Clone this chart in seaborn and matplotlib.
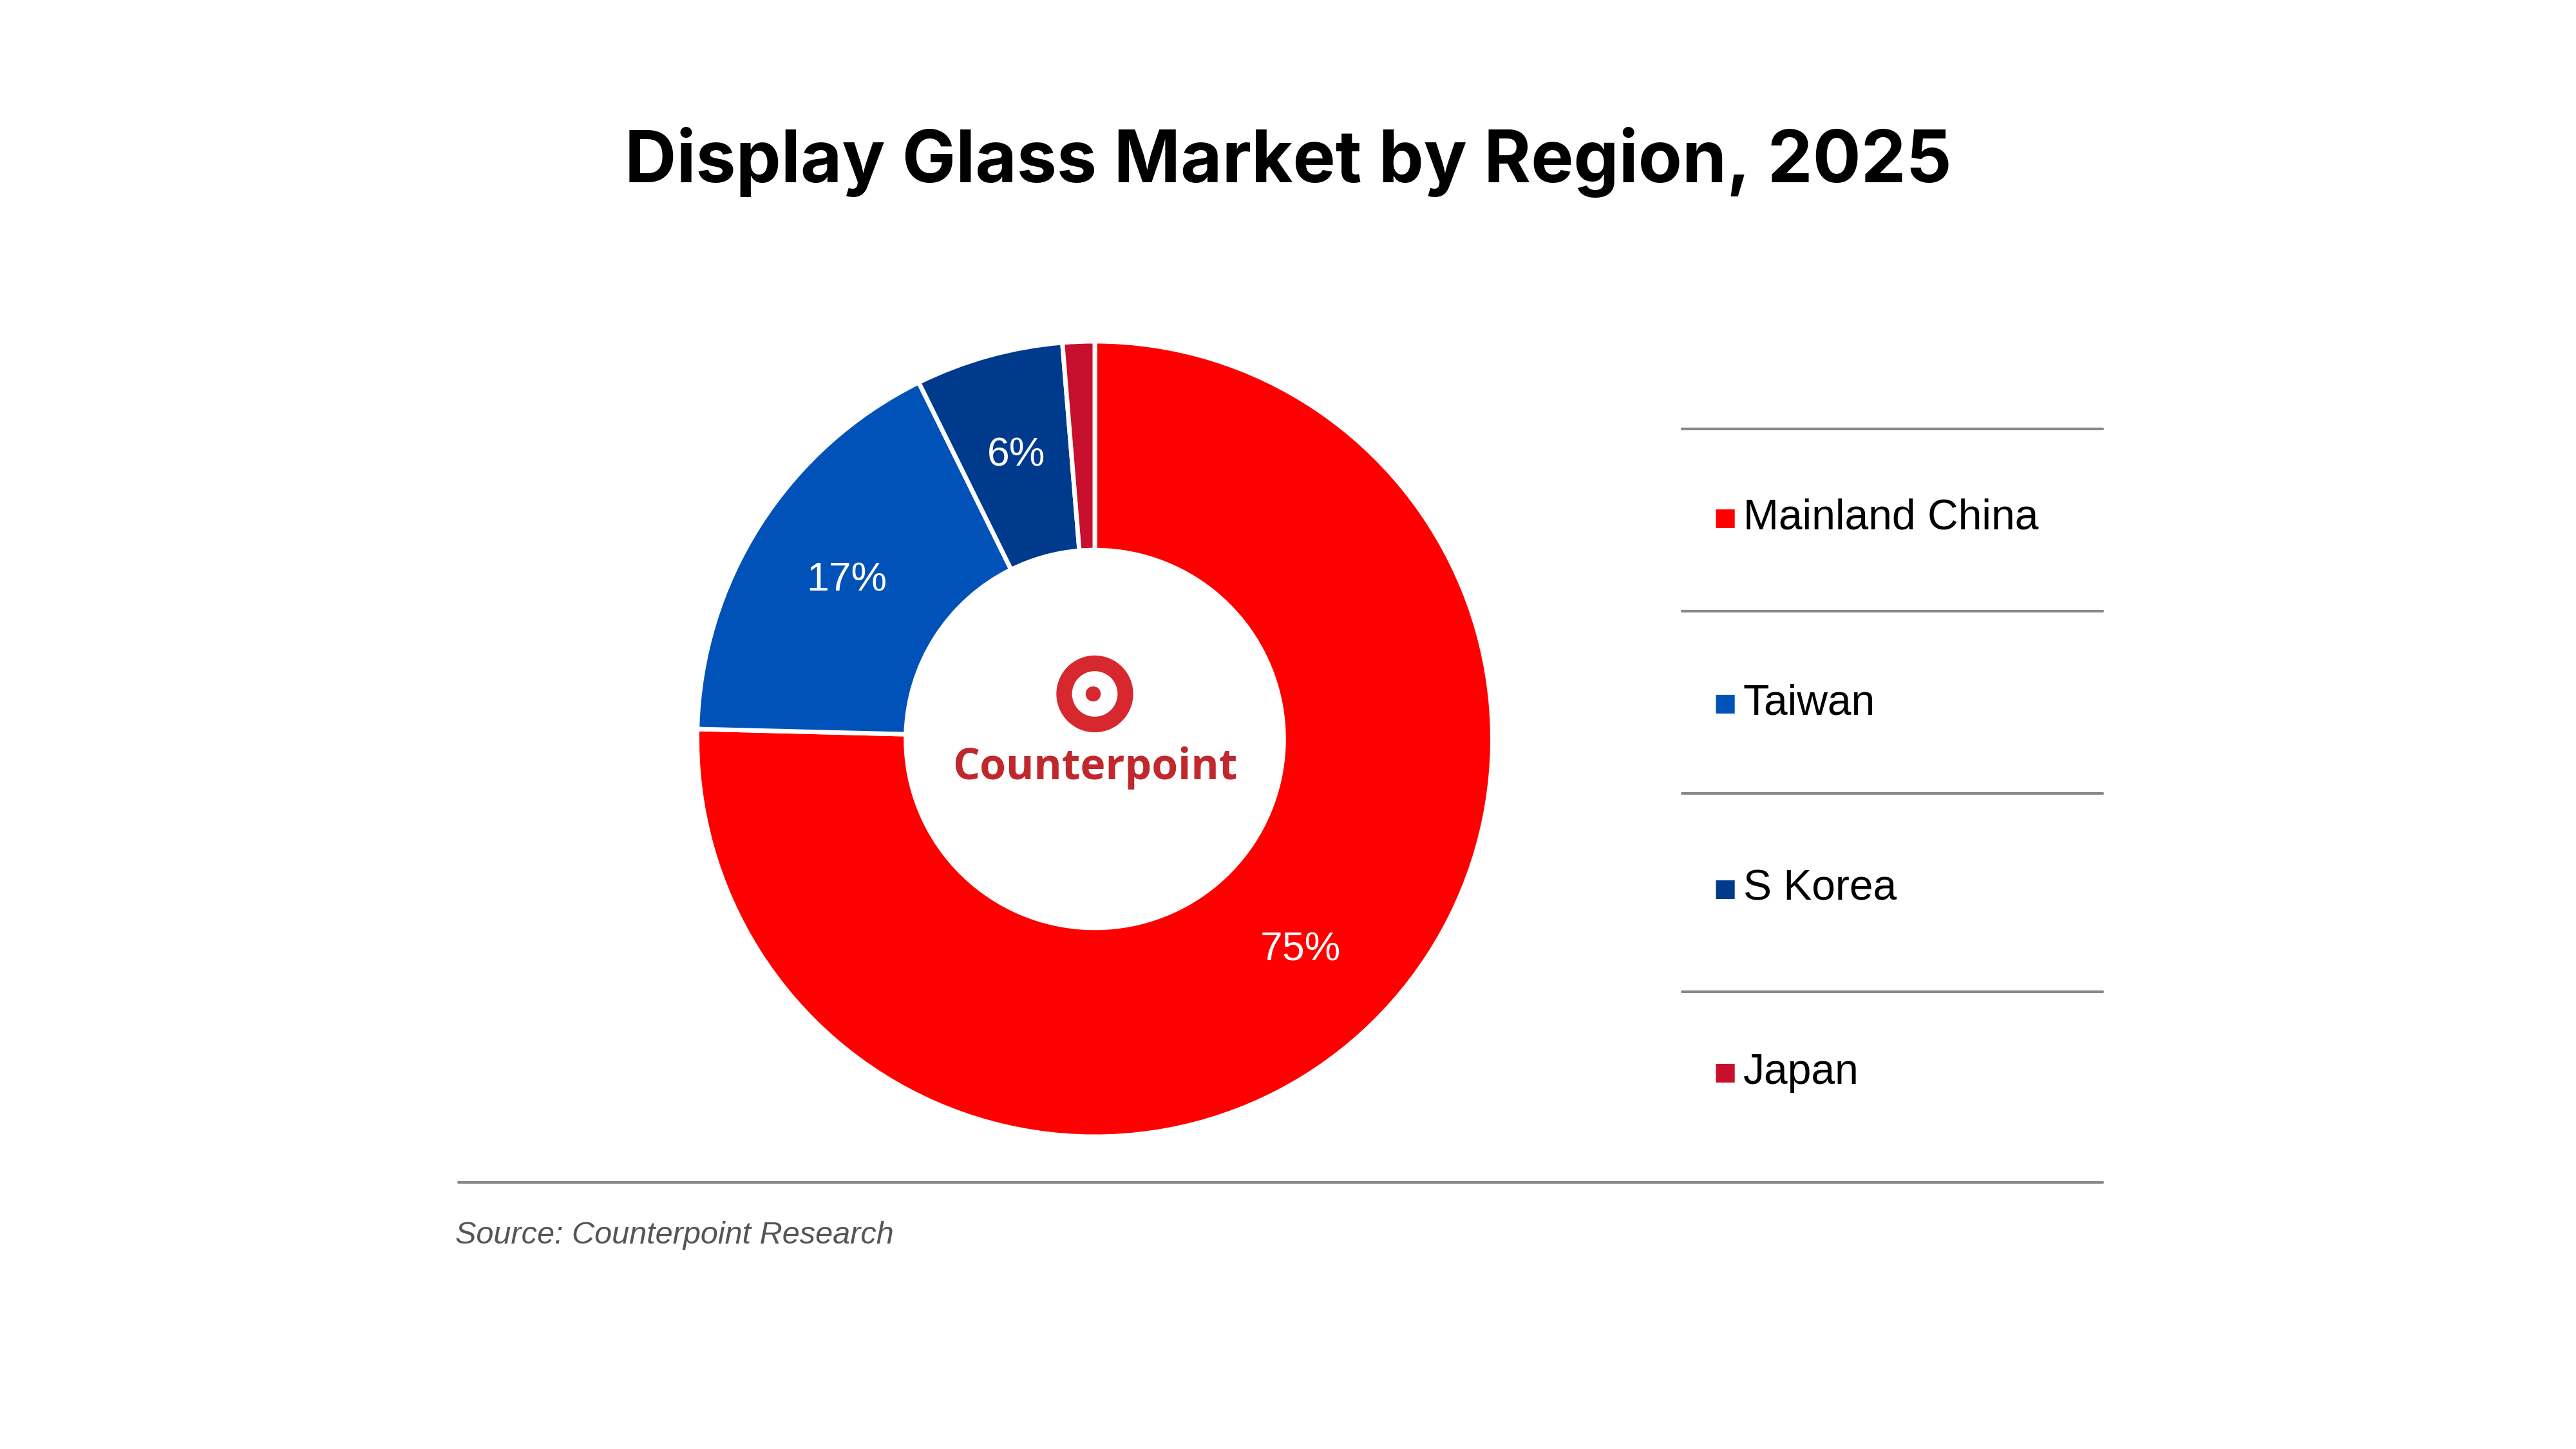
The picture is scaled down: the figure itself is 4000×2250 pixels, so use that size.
import seaborn as sns
import matplotlib.pyplot as plt
from matplotlib.patches import Circle

# data
regions = ["Mainland China", "Taiwan", "S Korea", "Japan"]
shares = [75.4, 17.3, 6.0, 1.3]
colors = ["#ff0000", "#0052b8", "#003a8c", "#c8102e"]

sns.set_theme(style="white")
plt.rcParams['font.family'] = ['Liberation Sans', 'DejaVu Sans']
plt.rcParams['text.color'] = 'black'

fig = plt.figure(figsize=(16, 9), dpi=250)
ax = fig.add_axes([0, 0, 1, 1])

# donut, coordinates in inches
cx, cy, r = 6.80, 4.41, 2.47
wedges, texts, autotexts = ax.pie(
    shares, colors=colors, startangle=90, counterclock=False,
    center=(cx, cy), radius=r, frame=True,
    autopct=lambda p: f"{p:.0f}%" if p > 3 else "",
    pctdistance=0.74,
    wedgeprops=dict(width=r * 0.525, edgecolor="white", linewidth=2),
    textprops=dict(color="white", fontsize=18))
ax.set_xlim(0, 16)
ax.set_ylim(0, 9)
ax.set_aspect("equal")
ax.axis("off")

# centre logo
ax.add_patch(Circle((cx, cy + 0.28), 0.19, fill=False, ec="#d6282e", lw=7))
ax.add_patch(Circle((cx - 0.01, cy + 0.28), 0.04, color="#d6282e"))
ax.text(cx, cy - 0.18, "Counterpoint", ha="center", va="center",
        fontsize=19, fontweight="bold", color="#c0282d", family=["Open Sans", "DejaVu Sans"])

# title
fig.text(0.5, 0.888, "Display Glass Market by Region, 2025", ha="center", va="center",
         fontsize=32, fontweight="bold", family=["Inter", "DejaVu Sans"])

# legend with separator lines
x0, x1 = 1016 / 1556, 1270 / 1556
for yl in [259, 369, 479, 599]:
    fig.add_artist(plt.Line2D([x0, x1], [1 - yl / 875] * 2, color="#888888", lw=1.2))
for name, col, yt in zip(regions, colors, [313, 425, 537, 648]):
    yf = 1 - yt / 875
    fig.text(1035 / 1556, yf, "■", color=col, fontsize=11, va="center", ha="left",
             family=["DejaVu Sans"])
    fig.text(1053 / 1556, yf, name, fontsize=19, va="center", ha="left")

# bottom rule and source
fig.add_artist(plt.Line2D([277 / 1556, x1], [1 - 714 / 875] * 2, color="#888888", lw=1.2))
fig.text(275 / 1556, 1 - 746 / 875, "Source: Counterpoint Research", fontsize=14,
         style="italic", color="#555555", va="center", ha="left")

fig.savefig("out.png", dpi=250, facecolor="white")
